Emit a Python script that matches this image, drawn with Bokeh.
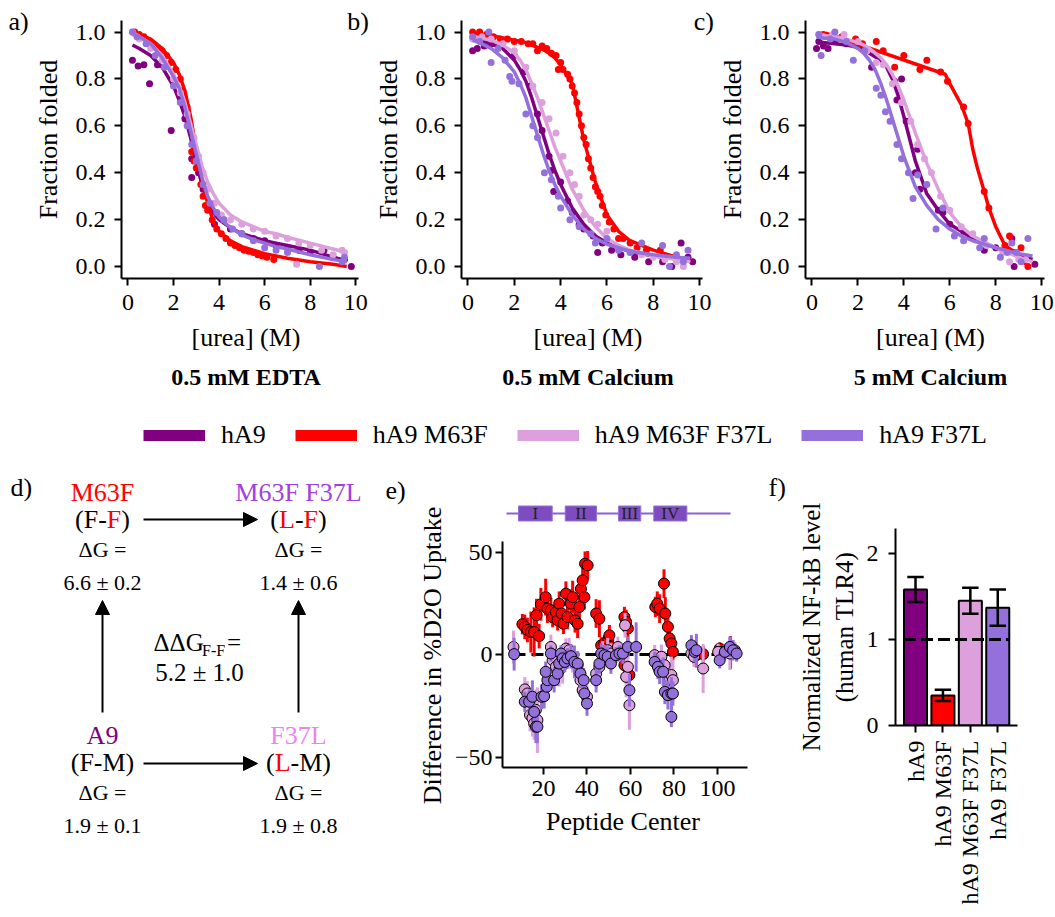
import numpy as np
from bokeh.plotting import figure
from bokeh.models import (Range1d, Title, Legend, LegendItem, Arrow, NormalHead, FixedTicker)
from bokeh.layouts import row, column
from bokeh.embed import file_html
from bokeh.resources import INLINE
from bokeh.core.properties import value

FONT = "Liberation Serif"

VARIANTS = ["hA9", "hA9 M63F", "hA9 M63F F37L", "hA9 F37L"]
COLORS = ["#800080", "#ff0000", "#dda0dd", "#9370db"]
CONDITIONS = ["0.5 mM EDTA", "0.5 mM Calcium", "5 mM Calcium"]

# ---------------- urea melts: fitted curves ----------------
FIT_X = [0.2, 0.5, 1.0, 1.5, 2.0, 2.25, 2.5, 2.75, 3.0, 3.25, 3.5, 3.75, 4.0, 4.5, 5.0, 5.5, 6.0, 6.5, 7.0, 8.0, 9.0, 9.6]
A_FIT_HA9 = [0.945, 0.93, 0.90, 0.85, 0.77, 0.71, 0.64, 0.55, 0.44, 0.35, 0.28, 0.23, 0.20, 0.165, 0.14, 0.125, 0.11, 0.10, 0.09, 0.07, 0.04, 0.025]
A_FIT_M63F = [1.0, 0.99, 0.97, 0.93, 0.87, 0.82, 0.75, 0.64, 0.50, 0.37, 0.27, 0.19, 0.15, 0.11, 0.085, 0.07, 0.055, 0.045, 0.035, 0.02, 0.01, 0.0]
A_FIT_DBL = [1.0, 0.98, 0.95, 0.90, 0.82, 0.77, 0.70, 0.61, 0.52, 0.43, 0.36, 0.31, 0.27, 0.22, 0.19, 0.17, 0.15, 0.14, 0.125, 0.10, 0.075, 0.06]
A_FIT_F37L = [0.99, 0.98, 0.95, 0.89, 0.81, 0.76, 0.68, 0.58, 0.48, 0.38, 0.30, 0.25, 0.21, 0.165, 0.135, 0.115, 0.10, 0.085, 0.075, 0.05, 0.03, 0.02]

B_FIT_HA9 = [0.97, 0.965, 0.95, 0.93, 0.88, 0.84, 0.79, 0.72, 0.64, 0.56, 0.48, 0.41, 0.35, 0.25, 0.18, 0.13, 0.10, 0.08, 0.065, 0.045, 0.035, 0.03]
B_FIT_M63F = [0.995, 0.99, 0.985, 0.975, 0.965, 0.96, 0.955, 0.945, 0.935, 0.925, 0.91, 0.89, 0.86, 0.78, 0.54, 0.36, 0.22, 0.15, 0.11, 0.07, 0.04, 0.02]
B_FIT_DBL = [0.98, 0.975, 0.965, 0.945, 0.91, 0.88, 0.84, 0.78, 0.72, 0.65, 0.58, 0.51, 0.45, 0.33, 0.24, 0.17, 0.12, 0.09, 0.07, 0.045, 0.03, 0.02]
B_FIT_F37L = [0.965, 0.955, 0.93, 0.89, 0.83, 0.78, 0.72, 0.64, 0.56, 0.48, 0.41, 0.35, 0.30, 0.22, 0.16, 0.12, 0.095, 0.08, 0.065, 0.05, 0.04, 0.035]

C_FIT_HA9 = [0.96, 0.955, 0.95, 0.945, 0.935, 0.925, 0.91, 0.895, 0.88, 0.85, 0.80, 0.73, 0.64, 0.45, 0.31, 0.24, 0.18, 0.15, 0.12, 0.08, 0.05, 0.03]
C_FIT_DBL = [0.99, 0.985, 0.98, 0.97, 0.955, 0.945, 0.93, 0.91, 0.89, 0.86, 0.82, 0.77, 0.71, 0.57, 0.44, 0.33, 0.23, 0.17, 0.13, 0.08, 0.04, 0.02]
C_FIT_F37L = [0.98, 0.975, 0.97, 0.955, 0.93, 0.91, 0.88, 0.84, 0.78, 0.71, 0.63, 0.55, 0.47, 0.34, 0.26, 0.20, 0.16, 0.13, 0.11, 0.08, 0.055, 0.045]
C_FIT_M63F_X = [0.6, 5.8, 6.0, 6.5, 6.8, 7.0, 7.2, 7.5, 7.7, 8.0, 8.4, 8.7, 9.0, 9.3]
C_FIT_M63F = [0.995, 0.82, 0.78, 0.69, 0.61, 0.50, 0.42, 0.32, 0.25, 0.17, 0.09, 0.07, 0.05, 0.01]

# ---------------- urea melts: measured points (urea M, fraction folded) ----------------
A_PTS_HA9 = [(0.2, 0.88), (0.45, 0.855), (0.7, 0.86), (0.95, 0.78), (1.3, 0.86), (1.9, 0.58), (2.3, 0.72), (2.5, 0.63),
             (2.8, 0.38), (2.8, 0.46), (3.1, 0.40), (3.3, 0.33), (3.8, 0.18), (4.2, 0.20), (4.5, 0.16), (5.0, 0.14),
             (5.5, 0.12), (6.0, 0.11), (6.5, 0.09), (7.0, 0.08), (7.5, 0.07), (8.0, 0.06), (8.6, 0.07), (9.0, 0.04),
             (9.5, 0.03), (9.8, 0.0)]
A_PTS_M63F = [(0.3, 1.0), (0.5, 0.99), (0.7, 0.98), (0.9, 0.96), (1.1, 0.95), (1.3, 0.93), (1.5, 0.92), (1.7, 0.90),
              (1.9, 0.87), (2.1, 0.84), (2.3, 0.80), (2.4, 0.75), (2.6, 0.68), (2.7, 0.62), (2.8, 0.49), (2.9, 0.45),
              (3.0, 0.42), (3.2, 0.35), (3.3, 0.30), (3.4, 0.26), (3.5, 0.24), (3.7, 0.20), (3.9, 0.16), (4.1, 0.14),
              (4.3, 0.12), (4.5, 0.10), (4.7, 0.09), (4.9, 0.08), (5.1, 0.07), (5.3, 0.065), (5.5, 0.06), (5.7, 0.05),
              (5.9, 0.045), (6.1, 0.04), (6.4, 0.03)]
A_PTS_DBL = [(0.2, 1.0), (0.5, 0.97), (1.0, 0.93), (1.5, 0.88), (2.0, 0.80), (2.3, 0.74), (2.6, 0.65), (2.9, 0.55),
             (3.1, 0.47), (3.3, 0.40), (3.5, 0.33), (3.8, 0.27), (4.1, 0.22), (4.5, 0.20), (5.0, 0.18), (5.5, 0.16),
             (6.0, 0.15), (6.5, 0.13), (7.0, 0.12), (7.4, 0.01), (7.5, 0.10), (8.0, 0.09), (8.5, 0.07), (9.0, 0.05),
             (9.4, 0.07), (9.5, 0.06)]
A_PTS_F37L = [(0.2, 1.0), (0.4, 0.98), (0.8, 0.95), (1.2, 0.90), (1.6, 0.85), (2.0, 0.77), (2.3, 0.70), (2.6, 0.60),
              (2.8, 0.52), (3.0, 0.45), (3.3, 0.35), (3.6, 0.27), (3.9, 0.23), (4.2, 0.20), (4.6, 0.16), (5.0, 0.14),
              (5.5, 0.11), (6.0, 0.08), (6.5, 0.07), (7.0, 0.06), (8.4, 0.0), (9.4, 0.02), (9.5, 0.04)]

B_PTS_HA9 = [(0.2, 0.92), (0.4, 0.93), (0.7, 0.94), (1.0, 0.95), (1.5, 0.95), (2.0, 0.90), (2.4, 0.83), (2.7, 0.77),
             (3.0, 0.65), (3.2, 0.58), (3.5, 0.47), (3.6, 0.41), (3.7, 0.32), (4.0, 0.36), (4.3, 0.28), (4.5, 0.23),
             (4.8, 0.18), (5.0, 0.16), (5.4, 0.13), (5.6, 0.06), (5.8, 0.10), (6.2, 0.07), (6.6, 0.05), (7.2, 0.04),
             (7.8, 0.02), (8.4, 0.02), (8.8, 0.0), (9.2, 0.10), (9.5, 0.04), (9.7, 0.02)]
B_PTS_M63F = [(0.2, 1.0), (0.5, 1.0), (0.8, 0.99), (1.1, 0.98), (1.4, 0.97), (1.7, 0.97), (2.0, 0.96), (2.3, 0.96),
              (2.6, 0.95), (2.8, 0.95), (3.0, 0.92), (3.2, 0.94), (3.4, 0.93), (3.6, 0.91), (3.8, 0.90), (3.9, 0.84),
              (4.0, 0.87), (4.1, 0.84), (4.3, 0.82), (4.4, 0.80), (4.5, 0.77), (4.6, 0.74), (4.7, 0.70), (4.8, 0.65),
              (4.9, 0.60), (5.0, 0.55), (5.1, 0.52), (5.2, 0.46), (5.3, 0.42), (5.4, 0.38), (5.5, 0.34), (5.6, 0.32),
              (5.7, 0.30), (5.8, 0.26), (5.95, 0.22), (6.1, 0.19), (6.3, 0.16), (6.5, 0.12), (6.7, 0.12), (7.0, 0.10),
              (7.3, 0.08), (7.7, 0.07), (8.3, 0.07), (9.2, 0.03)]
B_PTS_DBL = [(0.2, 0.97), (0.6, 0.98), (1.0, 0.97), (1.5, 0.95), (2.0, 0.92), (2.5, 0.85), (2.8, 0.77), (3.2, 0.70),
             (3.5, 0.63), (3.8, 0.57), (4.1, 0.47), (4.4, 0.40), (4.6, 0.35), (4.8, 0.30), (5.0, 0.22), (5.3, 0.20),
             (5.6, 0.18), (6.0, 0.15), (6.5, 0.08), (7.0, 0.06), (7.5, 0.05), (8.0, 0.04), (8.5, 0.03), (9.0, 0.02),
             (9.3, 0.0)]
B_PTS_F37L = [(0.2, 0.98), (0.5, 0.96), (0.9, 1.0), (1.0, 0.87), (1.3, 0.93), (1.6, 0.88), (1.8, 0.81), (1.9, 0.79),
              (2.2, 0.78), (2.5, 0.65), (2.8, 0.60), (3.0, 0.55), (3.3, 0.40), (3.6, 0.37), (3.9, 0.30), (4.0, 0.25),
              (4.4, 0.20), (4.8, 0.17), (5.3, 0.14), (5.5, 0.10), (6.0, 0.12), (6.5, 0.07), (7.0, 0.06), (7.5, 0.10),
              (8.4, 0.09), (8.7, 0.0), (9.0, 0.05), (9.3, 0.02), (9.5, 0.07)]

C_PTS_HA9 = [(0.2, 0.93), (0.3, 0.96), (0.5, 0.94), (0.7, 0.93), (1.0, 0.96), (1.5, 0.95), (2.0, 0.94), (2.6, 0.85),
             (3.6, 0.79), (3.9, 0.80), (3.7, 0.71), (4.1, 0.62), (4.6, 0.50), (4.5, 0.40), (4.7, 0.33), (5.5, 0.24),
             (5.7, 0.23), (6.0, 0.18), (6.6, 0.15), (7.5, 0.07), (8.0, 0.08), (8.7, 0.12), (8.8, 0.0), (9.2, 0.03),
             (9.7, 0.01)]
C_PTS_M63F = [(0.5, 0.99), (1.3, 0.98), (1.9, 0.97), (2.2, 0.95), (2.8, 0.96), (3.1, 0.92), (3.6, 0.85), (4.0, 0.90),
              (4.7, 0.84), (5.0, 0.88), (5.6, 0.83), (5.9, 0.79), (6.6, 0.68), (6.8, 0.61), (7.5, 0.32), (7.7, 0.25),
              (8.4, 0.09), (8.6, 0.13), (8.8, 0.06), (9.1, 0.08), (9.4, 0.0)]
C_PTS_DBL = [(0.3, 0.99), (0.5, 0.98), (0.9, 0.99), (1.4, 0.99), (2.0, 0.96), (2.4, 0.92), (2.8, 0.87), (3.1, 0.86),
             (3.5, 0.78), (3.9, 0.70), (4.3, 0.62), (4.6, 0.52), (4.9, 0.46), (5.2, 0.40), (5.6, 0.30), (6.0, 0.24),
             (6.5, 0.17), (7.0, 0.14), (7.6, 0.09), (8.3, 0.06), (8.6, 0.02), (9.0, 0.03), (9.3, 0.03)]
C_PTS_F37L = [(0.3, 0.99), (0.4, 0.90), (0.8, 0.97), (1.0, 1.0), (1.5, 0.96), (1.8, 0.88), (2.3, 0.92), (2.8, 0.76),
              (3.0, 0.73), (3.2, 0.66), (3.4, 0.62), (3.7, 0.52), (3.9, 0.46), (4.2, 0.40), (4.4, 0.29), (4.6, 0.39),
              (5.0, 0.35), (5.4, 0.16), (5.7, 0.25), (6.2, 0.13), (6.6, 0.11), (7.3, 0.08), (7.5, 0.12), (8.2, 0.04),
              (8.5, 0.06), (8.7, 0.10), (8.9, 0.06), (9.1, 0.02), (9.4, 0.12)]

# ---------------- HDX: (peptide center, difference %D2O uptake, error) ----------------
HDX_M63F = [(10.3, 14.8, 5), (11.4, 13.5, 6), (12.6, 12, 6), (14.2, 11, 10), (15.7, 11, 12), (16.8, 19.2, 8), (18.0, 9, 6),
            (18.8, 24.5, 8), (21.0, 28, 9), (21.8, 22.4, 7), (23.4, 21.6, 6), (24.2, 18.3, 5), (25.7, 20.8, 6),
            (26.5, 16.7, 5), (27.2, 24.8, 6), (28.3, 20, 7), (29.2, 15, 5), (30.3, 29.7, 6), (31.0, 18.3, 6),
            (32.6, 24.8, 7), (33.4, 28, 8), (34.5, 16.7, 6), (35.7, 15, 7), (36.5, 23.2, 6), (37.2, 32, 6),
            (38.0, 36.2, 7), (38.8, 28, 6), (39.1, 44.3, 6), (40.3, 43.5, 7), (44.2, 20, 7), (45.7, 17.5, 9),
            (46.5, 4.5, 4), (48.0, 5.4, 4), (49.8, 7.3, 4), (50.3, 9.4, 5), (51.0, 3.7, 4), (57.2, 18.3, 5),
            (58.0, 15.9, 6), (58.8, 12.7, 7), (57.2, -5.2, 4), (59.5, -10, 5), (71.4, 23.2, 5), (72.3, 24.8, 6),
            (73.4, 22.4, 7), (75.4, 34.6, 7), (76.0, 20, 8), (77.2, 13.5, 8), (78.0, 7.8, 6), (78.8, 5.4, 5),
            (79.5, 1.3, 4), (89.2, 0.5, 5), (90.3, -0.3, 6), (93.4, 0.2, 4), (101.0, 2.9, 3), (101.8, 1.3, 3),
            (106.0, 1.0, 8)]
HDX_DBL = [(6.2, 3.7, 8), (11.4, -17, 6), (12.6, -19, 6), (13.8, -29.5, 8), (14.9, -31, 9), (15.7, -33.6, 8),
           (16.5, -27, 10), (17.2, -32, 16), (23.4, 3.7, 6), (24.2, -2.8, 6), (25.7, -6, 7), (27.2, -7.6, 8),
           (28.8, -5.2, 9), (30.3, 2.9, 5), (31.8, 2.1, 6), (33.4, -2.8, 6), (35.7, -5.2, 7), (37.0, -12.5, 7),
           (38.0, -17.4, 7), (40.0, -20.6, 6), (44.2, -9.3, 7), (45.7, -6, 6), (47.2, 0.5, 6), (49.5, 2.1, 6),
           (51.0, 0.5, 5), (54.2, 3.7, 5), (57.5, 14.3, 6), (58.0, -10.9, 10), (59.5, -24.7, 12), (58.8, -6, 8),
           (71.1, -0.3, 5), (71.8, -3.6, 5), (74.2, -1.1, 6), (75.7, -5.2, 7), (78.0, -12.5, 8), (78.8, -10, 9),
           (79.5, -12.5, 10), (88.0, 0.5, 4), (89.2, -1.1, 5), (93.4, -6.8, 12), (100.3, 1.3, 4), (105.7, 0.5, 8),
           (108.0, 2.1, 4)]
HDX_F37L = [(6.5, 0.2, 8), (11.4, -23, 5), (13.4, -23, 6), (14.9, -20.6, 8), (15.7, -28, 10), (16.5, -35.2, 8),
            (17.2, -35.2, 8), (19.1, -20.6, 6), (20.3, -20.3, 6), (21.5, -15.7, 7), (21.8, -12.5, 6), (21.0, -8.4, 5),
            (23.4, 0.5, 4), (24.9, -12.5, 6), (26.5, -9.3, 6), (27.2, -4.4, 5), (28.0, 0.5, 4), (28.8, -1.9, 4),
            (29.8, -3.6, 5), (31.0, -1.9, 5), (32.6, -0.8, 6), (34.2, -3.6, 8), (35.7, -4.4, 6), (37.0, -9.3, 7),
            (38.5, -12.5, 6), (38.8, -19, 6), (40.0, -23.9, 6), (44.2, -12.5, 6), (45.7, -4.4, 5), (46.5, 0.5, 5),
            (48.0, -0.3, 5), (49.5, -1.1, 5), (51.0, -4.4, 5), (53.3, -0.3, 4), (54.9, 0.5, 4), (56.5, 0.5, 5),
            (58.8, 3.7, 5), (59.5, -17.4, 8), (62.6, 3.7, 12), (71.1, -3.6, 5), (72.6, -6, 6), (73.4, -8.4, 6),
            (75.0, -8.4, 7), (75.8, -18.2, 6), (77.2, -19.8, 7), (78.8, -19, 8), (78.8, -30.4, 5), (79.5, -19, 6),
            (88.0, 4.5, 5), (89.5, 1.3, 5), (90.3, 2.1, 8), (101.0, -2.8, 4), (103.4, 1.3, 4), (105.7, 3.7, 5),
            (107.2, 2.1, 5), (108.8, 0.5, 4)]
HDX_COLORS = ["#ff0000", "#dda0dd", "#9370db"]
BACKBONE = (3, 106)
HELIX_NAMES = ["I", "II", "III", "IV"]
HELIX_START = [8.5, 30.0, 54.5, 70.7]
HELIX_END = [24.0, 44.4, 64.7, 85.9]

# ---------------- NF-kB activation ----------------
NFKB_VALUES = [1.58, 0.35, 1.45, 1.37]
NFKB_ERRORS = [0.145, 0.065, 0.15, 0.21]

# ---------------- thermodynamic cycle ----------------
CYCLE_NAMES = ["M63F", "M63F F37L", "A9", "F37L"]
CYCLE_NAME_COLORS = ["#ff0000", "#a040e0", "#800080", "#ee82ee"]
CYCLE_PAIRS = ["(F-F)", "(L-F)", "(F-M)", "(L-M)"]
CYCLE_DG = ["6.6 \u00b1 0.2", "1.4 \u00b1 0.6", "1.9 \u00b1 0.1", "1.9 \u00b1 0.8"]
CYCLE_DDG = "5.2 \u00b1 1.0"


def style_axes(p, tick_size="24px", label_size="26px"):
    for ax in p.axis:
        ax.axis_line_width = 2
        ax.axis_line_color = "black"
        ax.major_tick_line_width = 2
        ax.major_tick_out = 7
        ax.major_tick_in = 0
        ax.minor_tick_line_color = None
        ax.major_label_text_font = FONT
        ax.major_label_text_font_size = tick_size
        ax.major_label_text_color = "black"
        ax.axis_label_text_font = FONT
        ax.axis_label_text_font_size = label_size
        ax.axis_label_text_font_style = "normal"
        ax.axis_label_text_color = "black"
    p.grid.visible = False
    p.outline_line_color = None


def canvas_fig(w, h):
    """A figure whose data coordinates are its own pixels (y downwards), used for free texts."""
    f = figure(width=w, height=h, x_range=Range1d(0, w), y_range=Range1d(h, 0), min_border=0,
               output_backend="svg", toolbar_location=None)
    f.axis.visible = False
    f.grid.visible = False
    f.outline_line_color = None
    return f


def put_text(f, x, y, txt, size="26px", color="black", align="left", angle=0.0):
    f.text([x], [y], text=[txt], text_font=value(FONT), text_font_size=size, text_color=color,
           text_align=align, text_baseline="middle", angle=angle)


# ======================= top row: urea melts =======================
X0, XS = -0.28, 23.53          # x at frame left, pixels per M urea
Y0, YS = -0.051, 234.5         # y at axis bottom, pixels per unit fraction
AX_BOTTOM = 278                # frame bottom (px from top of row)
X_BOUNDS = (-0.28, 10.13)
Y_BOUNDS = (-0.051, 1.049)

melt_fits = [[A_FIT_HA9, A_FIT_M63F, A_FIT_DBL, A_FIT_F37L],
             [B_FIT_HA9, B_FIT_M63F, B_FIT_DBL, B_FIT_F37L],
             [C_FIT_HA9, C_FIT_M63F, C_FIT_DBL, C_FIT_F37L]]
melt_pts = [[A_PTS_HA9, A_PTS_M63F, A_PTS_DBL, A_PTS_F37L],
            [B_PTS_HA9, B_PTS_M63F, B_PTS_DBL, B_PTS_F37L],
            [C_PTS_HA9, C_PTS_M63F, C_PTS_DBL, C_PTS_F37L]]
fig_left_edge = [30, 370, 714]
widths = [340, 344, 341]
frame_left = [113, 457, 799]

top_figs = []
for k in range(3):
    lb = frame_left[k] - fig_left_edge[k]
    fw = widths[k] - lb
    p = figure(width=widths[k], height=400,
               x_range=Range1d(X0, X0 + fw / XS), y_range=Range1d(Y0, Y0 + AX_BOTTOM / YS),
               min_border_left=lb, min_border_right=0, min_border_top=0, min_border_bottom=400 - AX_BOTTOM,
               output_backend="svg", toolbar_location=None)
    for i in range(4):
        xs = [a for a, b in melt_pts[k][i]]
        ys = [b for a, b in melt_pts[k][i]]
        p.scatter(xs, ys, size=7, fill_color=COLORS[i], line_color=None)
        fx = C_FIT_M63F_X if (k == 2 and i == 1) else FIT_X
        p.line(fx, melt_fits[k][i], line_color=COLORS[i], line_width=3.5)
    p.xaxis.ticker = FixedTicker(ticks=[0, 2, 4, 6, 8, 10])
    p.yaxis.ticker = FixedTicker(ticks=[0, 0.2, 0.4, 0.6, 0.8, 1.0])
    p.yaxis.major_label_overrides = {0: "0.0", 0.2: "0.2", 0.4: "0.4", 0.6: "0.6", 0.8: "0.8", 1.0: "1.0"}
    p.xaxis.bounds = X_BOUNDS
    p.yaxis.bounds = Y_BOUNDS
    p.xaxis.axis_label = "[urea] (M)"
    p.yaxis.axis_label = "Fraction folded"
    style_axes(p)
    p.yaxis.major_label_standoff = 9
    p.yaxis.axis_label_standoff = 10
    p.xaxis.major_label_standoff = 9
    p.xaxis.axis_label_standoff = 10
    p.add_layout(Title(text=CONDITIONS[k], align="center", text_font=FONT, text_font_size="24px",
                       text_font_style="bold", text_color="black", standoff=15), "below")
    top_figs.append(p)


def top_text(k, gx, gy, txt):
    # place a panel letter inside top figure k, from page pixel position (gx, gy)
    put_text(top_figs[k], X0 + (gx - frame_left[k]) / XS, Y0 + (AX_BOTTOM - gy) / YS, txt)


lab_a = canvas_fig(30, 400)
put_text(lab_a, 8, 21, "a)")
top_text(0, 346, 21, "b)")
top_text(1, 693, 21, "c)")

# ======================= legend strip =======================
pl = figure(width=1055, height=70, x_range=Range1d(0, 1), y_range=Range1d(0, 1), min_border=0,
            output_backend="svg", toolbar_location=None)
pl.axis.visible = False
pl.grid.visible = False
pl.outline_line_color = None
leg_rs = [pl.line([-1, -2], [-1, -2], line_color=c, line_width=11) for c in COLORS]
legend = Legend(items=[LegendItem(label=v, renderers=[r]) for v, r in zip(VARIANTS, leg_rs)],
                orientation="horizontal", location=(143, 20), glyph_width=62, glyph_height=26, label_height=26,
                label_standoff=16, spacing=29, padding=0, margin=0, border_line_color=None,
                background_fill_alpha=0, label_text_font=FONT, label_text_font_size="26px",
                label_text_color="black")
pl.add_layout(legend)

# ======================= d) thermodynamic cycle (+ e panel's letter and y title) =======================
ROW2_TOP = 470
pd_ = canvas_fig(450, 447)
node_x = [102, 298, 102, 298]
node_y = [22, 22, 265, 265]
CHAR_W = {"(": 0.333, ")": 0.333, "-": 0.333, "F": 0.556, "L": 0.611, "M": 0.889}
pair_fs = 26
for j in range(4):
    cx, cy = node_x[j], node_y[j]
    put_text(pd_, cx, cy, CYCLE_NAMES[j], size="26px", color=CYCLE_NAME_COLORS[j], align="center")
    pair = CYCLE_PAIRS[j]
    total = sum(CHAR_W[ch] for ch in pair) * pair_fs
    xx = cx - total / 2
    for idx, ch in enumerate(pair):
        red = (idx == 1 and ch == "L") or (idx == 3 and ch == "F")
        put_text(pd_, xx, cy + 27, ch, size=f"{pair_fs}px", color="#ff0000" if red else "black")
        xx += CHAR_W[ch] * pair_fs
    put_text(pd_, cx, cy + 57, "\u0394G =", size="22px", align="center")
    put_text(pd_, cx, cy + 90, CYCLE_DG[j], size="22px", align="center")
for (x0, y0, x1, y1) in [(143, 49, 257, 49), (143, 293, 257, 293), (102, 242, 102, 130), (298, 242, 298, 130)]:
    pd_.add_layout(Arrow(x_start=x0, y_start=y0, x_end=x1, y_end=y1, line_width=2, line_color="black",
                         end=NormalHead(size=14, fill_color="black", line_color="black")))
ddg_x = 153
put_text(pd_, ddg_x, 172, "\u0394\u0394G", size="25px")
put_text(pd_, ddg_x + 48.6, 180, "F-F", size="16px")
put_text(pd_, ddg_x + 48.6 + 25, 172, " =", size="25px")
put_text(pd_, 199, 202, CYCLE_DDG, size="25px", align="center")
put_text(pd_, 10, 17, "d)")
put_text(pd_, 385, 20, "e)")
# y title of panel e (left of its axis)
put_text(pd_, 432, 655 - ROW2_TOP, "Difference in %D2O Uptake", size="26px", align="center", angle=np.pi / 2)

# ======================= e) HDX =======================
E_X0, E_XS = 1.15, 2.175       # x at frame left, px per residue
E_Y0, E_YS = -55.1, 2.05       # y at frame bottom, px per %
E_W, E_H, E_LB, E_BB = 345, 447, 52, 150
E_FRAME_BOTTOM = ROW2_TOP + E_H - E_BB   # 767
e_fw = E_W - E_LB
pe = figure(width=E_W, height=E_H,
            x_range=Range1d(E_X0, E_X0 + e_fw / E_XS), y_range=Range1d(E_Y0, E_Y0 + (E_H - E_BB) / E_YS),
            min_border_left=E_LB, min_border_right=0, min_border_top=0, min_border_bottom=E_BB,
            output_backend="svg", toolbar_location=None)
E_FRAME_LEFT = 450 + E_LB


def e_data(gx, gy):
    return E_X0 + (gx - E_FRAME_LEFT) / E_XS, E_Y0 + (E_FRAME_BOTTOM - gy) / E_YS


# secondary-structure cartoon above the data (helices I-IV)
_, cart_y = e_data(0, 513)
cart_h = 7.5 / E_YS
pe.segment([BACKBONE[0]], [cart_y], [BACKBONE[1]], [cart_y], line_color="#8a63d2", line_width=2)
pe.quad(left=HELIX_START, right=HELIX_END, bottom=cart_y - cart_h, top=cart_y + cart_h, fill_color="#7e4cbf",
        line_color="#9370db", line_width=1)
pe.text([(a + b) / 2 for a, b in zip(HELIX_START, HELIX_END)], [cart_y] * 4, text=HELIX_NAMES,
        text_font=value(FONT), text_font_size="17px", text_align="center", text_baseline="middle",
        text_color="#222222")
all_x = [t[0] for s in (HDX_M63F, HDX_DBL, HDX_F37L) for t in s]
pe.segment([min(all_x)], [0], [max(all_x)], [0], line_color="black", line_width=3, line_dash="12 6")
for series, col in zip((HDX_M63F, HDX_DBL, HDX_F37L), HDX_COLORS):
    xs = [t[0] for t in series]
    ys = [t[1] for t in series]
    es = [t[2] for t in series]
    pe.segment(xs, [y - e for y, e in zip(ys, es)], xs, [y + e for y, e in zip(ys, es)], line_color=col,
               line_width=3)
    pe.scatter(xs, ys, size=11, fill_color=col, line_color="black", line_width=1)
pe.xaxis.ticker = FixedTicker(ticks=[20, 40, 60, 80, 100])
pe.yaxis.ticker = FixedTicker(ticks=[-50, 0, 50])
pe.yaxis.major_label_overrides = {-50: "\u221250"}
pe.yaxis.bounds = (E_Y0, -E_Y0)
pe.xaxis.bounds = (E_X0, 113.8)
# padded on the right so the title sits under the drawn axis (the frame extends further right)
pe.xaxis.axis_label = "Peptide Center" + "\u00a0" * 8
style_axes(pe)
pe.yaxis.major_label_standoff = 3
pe.xaxis.major_label_standoff = 6
pe.xaxis.axis_label_standoff = 8
fx_, fy_ = e_data(768, 487)
put_text(pe, fx_, fy_, "f)")

# ======================= f) NF-kB =======================
pf = figure(width=260, height=447, x_range=Range1d(-0.73, 3.72), y_range=Range1d(0, 2.29), min_border_left=100,
            min_border_right=38, min_border_top=58, min_border_bottom=192, output_backend="svg",
            toolbar_location=None)
idx = list(range(len(VARIANTS)))
bw = 0.84
pf.vbar(x=idx, top=NFKB_VALUES, width=bw, bottom=0, fill_color=COLORS, line_color="black", line_width=2)
pf.segment([idx[0] - bw / 2], [1], [idx[-1] + bw / 2], [1], line_color="black", line_width=3, line_dash="12 5")
lo = [v - e for v, e in zip(NFKB_VALUES, NFKB_ERRORS)]
hi = [v + e for v, e in zip(NFKB_VALUES, NFKB_ERRORS)]
pf.segment(idx, lo, idx, hi, line_color="black", line_width=2.5)
cap = 0.3
pf.segment([i - cap for i in idx], lo, [i + cap for i in idx], lo, line_color="black", line_width=2.5)
pf.segment([i - cap for i in idx], hi, [i + cap for i in idx], hi, line_color="black", line_width=2.5)
pf.xaxis.ticker = FixedTicker(ticks=idx)
pf.xaxis.major_label_overrides = {i: v for i, v in zip(idx, VARIANTS)}
pf.xaxis.major_label_orientation = np.pi / 2
pf.yaxis.ticker = FixedTicker(ticks=[0, 1, 2])
pf.yaxis.axis_label = "Normalized NF-kB level\n(human TLR4)"
style_axes(pf)
pf.yaxis.axis_label_text_font_size = "25px"
pf.yaxis.major_label_standoff = 10
pf.yaxis.axis_label_standoff = 6
pf.xaxis.major_label_standoff = 8

top_row = row(column(lab_a), column(top_figs[0]), column(top_figs[1]), column(top_figs[2]))
bottom_row = row(column(pd_), column(pe), column(pf))
layout = column(top_row, pl, bottom_row)
open("out.html", "w").write(file_html(layout, INLINE))
